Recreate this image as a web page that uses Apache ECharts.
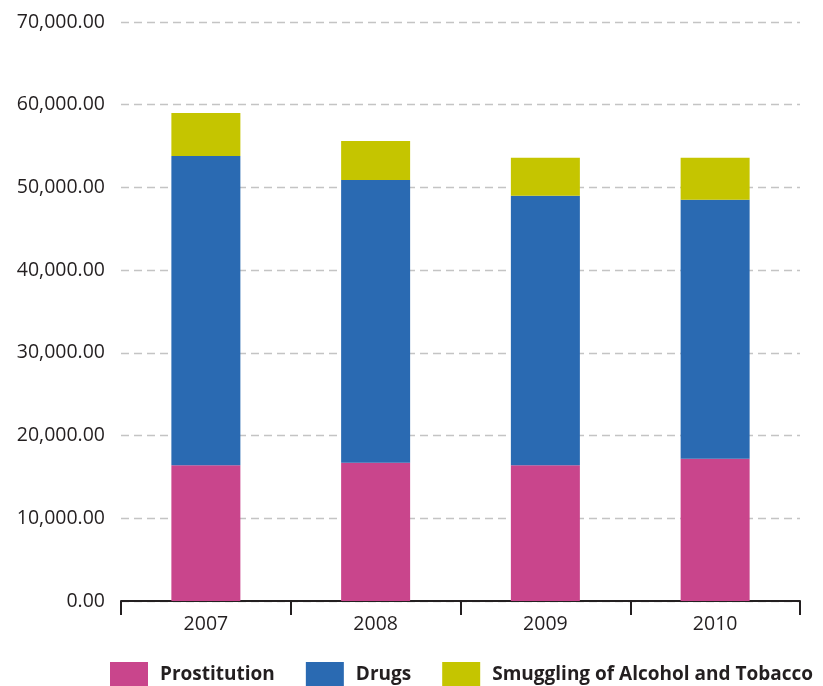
<!DOCTYPE html>
<html>
<head>
<meta charset="utf-8">
<script src="https://cdn.jsdelivr.net/npm/echarts@6/dist/echarts.min.js"></script>
<style>html,body{margin:0;padding:0;background:#fff}#c{width:823px;height:686px}</style>
</head>
<body>
<div id="c"></div>
<script>
const categories = ['2007', '2008', '2009', '2010'];
const prostitution = [16400, 16700, 16400, 17200];
const drugs = [37400, 34200, 32600, 31300];
const smuggling = [5200, 4700, 4600, 5100];
const seriesNames = ['Prostitution', 'Drugs', 'Smuggling of Alcohol and Tobacco'];
const colors = ['#C9458C', '#2A6AB2', '#C5C500'];

function fmt(v) {
  const s = Math.round(v).toString().replace(/\B(?=(\d{3})+(?!\d))/g, ',');
  return s + '.00';
}

const chart = echarts.init(document.getElementById('c'), null, {renderer: 'canvas'});
const font = '"Open Sans", sans-serif';
chart.setOption({
  animation: false,
  color: colors,
  grid: {left: 121, right: 23, top: 22, bottom: 85, containLabel: false},
  legend: {
    left: 110, top: 662, padding: 0,
    itemWidth: 38, itemHeight: 25, itemGap: 31,
    icon: 'rect',
    textStyle: {fontFamily: font, fontWeight: 'bold', fontSize: 19, color: '#231f20', padding: [0, 0, 0, 7]},
    data: seriesNames
  },
  xAxis: {
    type: 'category',
    data: categories,
    boundaryGap: true,
    axisLine: {lineStyle: {color: '#231f20', width: 2}},
    axisTick: {show: true, length: 14, lineStyle: {color: '#231f20', width: 2}},
    axisLabel: {fontFamily: font, fontSize: 19.5, color: '#231f20', margin: 13}
  },
  yAxis: {
    type: 'value',
    min: 0, max: 70000, interval: 10000,
    axisLine: {show: false},
    axisTick: {show: false},
    axisLabel: {fontFamily: font, fontSize: 19.5, color: '#231f20', margin: 16, formatter: fmt},
    splitLine: {lineStyle: {color: '#c4c4c4', type: [8, 5], width: 1.3}}
  },
  series: [
    {name: seriesNames[0], type: 'bar', stack: 's', barWidth: 69, data: prostitution},
    {name: seriesNames[1], type: 'bar', stack: 's', barWidth: 69, data: drugs},
    {name: seriesNames[2], type: 'bar', stack: 's', barWidth: 69, data: smuggling}
  ]
});
</script>
</body>
</html>
